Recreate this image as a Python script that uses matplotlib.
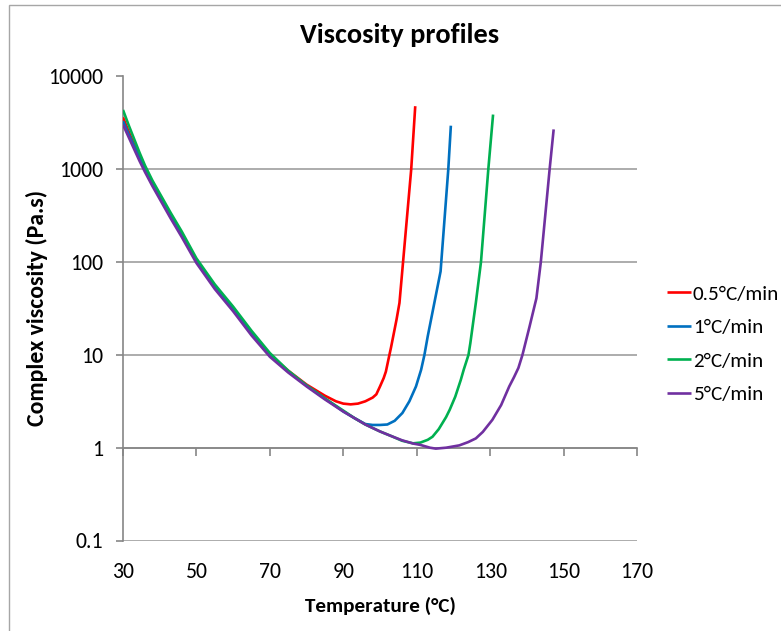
import matplotlib
matplotlib.use("Agg")
import matplotlib.pyplot as plt
from matplotlib import font_manager
from matplotlib.patches import Rectangle
import numpy as np

avail = {f.name for f in font_manager.fontManager.ttflist}
fam = [f for f in ["Carlito", "Liberation Sans Narrow", "Roboto Condensed", "Lato", "Open Sans"]
       if f in avail] + ["DejaVu Sans"]
plt.rcParams['font.family'] = fam

# ---- data (temperature in °C, log10 of complex viscosity in Pa.s) ----
t_05 = [30, 31.5, 33, 34.5, 36, 38, 40, 43, 46, 50, 55, 60, 65, 70, 75, 80, 85, 88, 90, 92, 94,
        96, 98, 99, 100, 101, 101.6, 102.4, 103, 103.6, 104.5, 105.3, 106.1, 108.5, 109.6]
lv_05 = [3.56, 3.41, 3.27, 3.13, 3.0, 2.85, 2.71, 2.5, 2.3, 2.02, 1.74, 1.5, 1.24, 1.0, 0.83,
         0.68, 0.56, 0.5, 0.475, 0.467, 0.475, 0.5, 0.54, 0.575, 0.66, 0.75, 0.82, 0.97, 1.08,
         1.2, 1.38, 1.56, 1.92, 3.0, 3.68]

t_1 = [30, 31.5, 33, 34.5, 36, 38, 40, 43, 46, 50, 55, 60, 65, 70, 75, 80, 85, 90, 93, 96, 98,
       100, 102, 104, 106.1, 108, 109.8, 111.2, 112.1, 113, 114.8, 116.5, 118.6, 119.3]
lv_1 = [3.52, 3.38, 3.25, 3.12, 2.99, 2.84, 2.7, 2.49, 2.29, 2.01, 1.73, 1.49, 1.23, 1.0, 0.82,
        0.67, 0.53, 0.39, 0.32, 0.255, 0.245, 0.245, 0.25, 0.29, 0.374, 0.5, 0.66, 0.84, 1.0,
        1.2, 1.56, 1.9, 3.0, 3.47]

t_2 = [30, 31.5, 33, 34.5, 36, 38, 40, 43, 46, 50, 55, 60, 65, 70, 75, 80, 85, 90, 93, 96, 100,
       103.4, 106, 109, 111, 113, 114.3, 116, 118, 119, 120.5, 122, 122.8, 124.1, 124.6, 126.1,
       127.5, 129.5, 130.8]
lv_2 = [3.64, 3.48, 3.33, 3.18, 3.04, 2.88, 2.74, 2.53, 2.33, 2.04, 1.76, 1.52, 1.26, 1.02,
        0.83, 0.67, 0.53, 0.40, 0.32, 0.25, 0.175, 0.12, 0.075, 0.047, 0.055, 0.085, 0.118, 0.2,
        0.33, 0.41, 0.55, 0.73, 0.84, 1.0, 1.125, 1.56, 2.0, 3.0, 3.59]

t_5 = [30, 31.5, 33, 34.5, 36, 38, 40, 43, 46, 50, 55, 60, 65, 70, 75, 80, 85, 90, 93, 96, 100,
       103.4, 106, 109, 111, 113.6, 115.2, 118, 121.6, 124, 126.1, 128, 130.6, 133, 135.2,
       136.5, 137.7, 138.8, 140.7, 142.6, 143.8, 146.2, 147.3]
lv_5 = [3.48, 3.35, 3.22, 3.09, 2.97, 2.82, 2.68, 2.47, 2.27, 1.99, 1.71, 1.47, 1.21, 0.98, 0.81,
        0.66, 0.52, 0.39, 0.32, 0.25, 0.175, 0.12, 0.08, 0.045, 0.03, 0.0, -0.01, 0.0, 0.025,
        0.06, 0.1, 0.17, 0.3, 0.46, 0.66, 0.76, 0.86, 1.0, 1.3, 1.61, 2.0, 3.0, 3.43]

labels = ["0.5°C/min", "1°C/min", "2°C/min", "5°C/min"]
colors = ["#FF0000", "#0070C0", "#00B050", "#7030A0"]
series_t = [t_05, t_1, t_2, t_5]
series_lv = [lv_05, lv_1, lv_2, lv_5]

x_ticks = [30, 50, 70, 90, 110, 130, 150, 170]
y_ticks = [0.1, 1, 10, 100, 1000, 10000]
y_tick_labels = ["0.1", "1", "10", "100", "1000", "10000"]

W, H = 781, 631
fig = plt.figure(figsize=(W / 100, H / 100), dpi=100)
fig.patch.set_facecolor("white")
renderer = fig.canvas.get_renderer()


def fit_width(txt, target_px):
    w = txt.get_window_extent(renderer).width
    if w > 0:
        txt.set_fontsize(txt.get_fontsize() * target_px / w)


# outer chart border (runs off right/bottom as in reference)
fig.patches.append(Rectangle((9 / W, -0.05), 1.2, 1 - 5 / H + 0.05, transform=fig.transFigure,
                             fill=False, edgecolor="#A6A6A6", linewidth=1.0))

ax = fig.add_axes([123 / W, 1 - 540.5 / H, (637 - 123) / W, (540.5 - 76.5) / H])
ax.set_yscale("log")
ax.set_xlim(30, 170)
ax.set_ylim(0.1, 10000)

grid_c = "#A6A6A6"
for yv in y_ticks:
    ax.axhline(yv, color=grid_c, linewidth=1.3, zorder=1)

for t, lv, c, lab in zip(series_t, series_lv, colors, labels):
    ax.plot(t, 10 ** np.array(lv), color=c, linewidth=1.9, label=lab, zorder=3,
            solid_capstyle="butt", solid_joinstyle="round")

for s in ["top", "right"]:
    ax.spines[s].set_visible(False)
ax.spines["left"].set_color("#868686")
ax.spines["left"].set_linewidth(1.2)
ax.spines["bottom"].set_position(("data", 1))
ax.spines["bottom"].set_color("#868686")
ax.spines["bottom"].set_linewidth(1.2)

# tick font sized from reference label widths (slightly enlarged for height)
probe = fig.text(0, 0, "10000", fontsize=13)
fit_width(probe, 55)
tick_fs = probe.get_fontsize()
probe.remove()

ax.set_xticks(x_ticks)
ax.set_xticklabels([str(v) for v in x_ticks])
ax.set_yticks(y_ticks)
ax.set_yticklabels(y_tick_labels)
ax.yaxis.set_minor_locator(matplotlib.ticker.NullLocator())
ax.tick_params(axis="x", direction="out", length=6, width=1.2, color="#868686",
               pad=76, labelsize=tick_fs)
ax.tick_params(axis="y", direction="out", length=5, width=1.2, color="#868686",
               pad=9, labelsize=tick_fs)

xl = fig.text(380 / W, 1 - 606 / H, "Temperature (°C)", ha="center", va="center",
              fontsize=13.5, fontweight="bold")
fit_width(xl, 152)
yl = fig.text(37 / W, 1 - 308 / H, "Complex viscosity (Pa.s)", ha="center", va="center",
              rotation=90, fontsize=12.5, fontweight="bold")
h = yl.get_window_extent(renderer).height
yl.set_fontsize(yl.get_fontsize() * 236 / h)
tl = fig.text(400 / W, 1 - 35 / H, "Viscosity profiles", ha="center", va="center",
              fontsize=18, fontweight="bold")
fit_width(tl, 200)

probe = fig.text(0, 0, labels[0], fontsize=13)
fit_width(probe, 86)
leg_fs = probe.get_fontsize()
probe.remove()

handles, labs = ax.get_legend_handles_labels()
leg = fig.legend(handles, labs, loc="center left", bbox_to_anchor=(667 / W, 1 - 344 / H),
                 frameon=False, fontsize=leg_fs, handlelength=24 / leg_fs / 1.389,
                 handletextpad=0.08, labelspacing=36.7 / (leg_fs * 1.389) - 1.0, borderpad=0,
                 borderaxespad=0)

fig.savefig("out.png", dpi=100, facecolor="white")
